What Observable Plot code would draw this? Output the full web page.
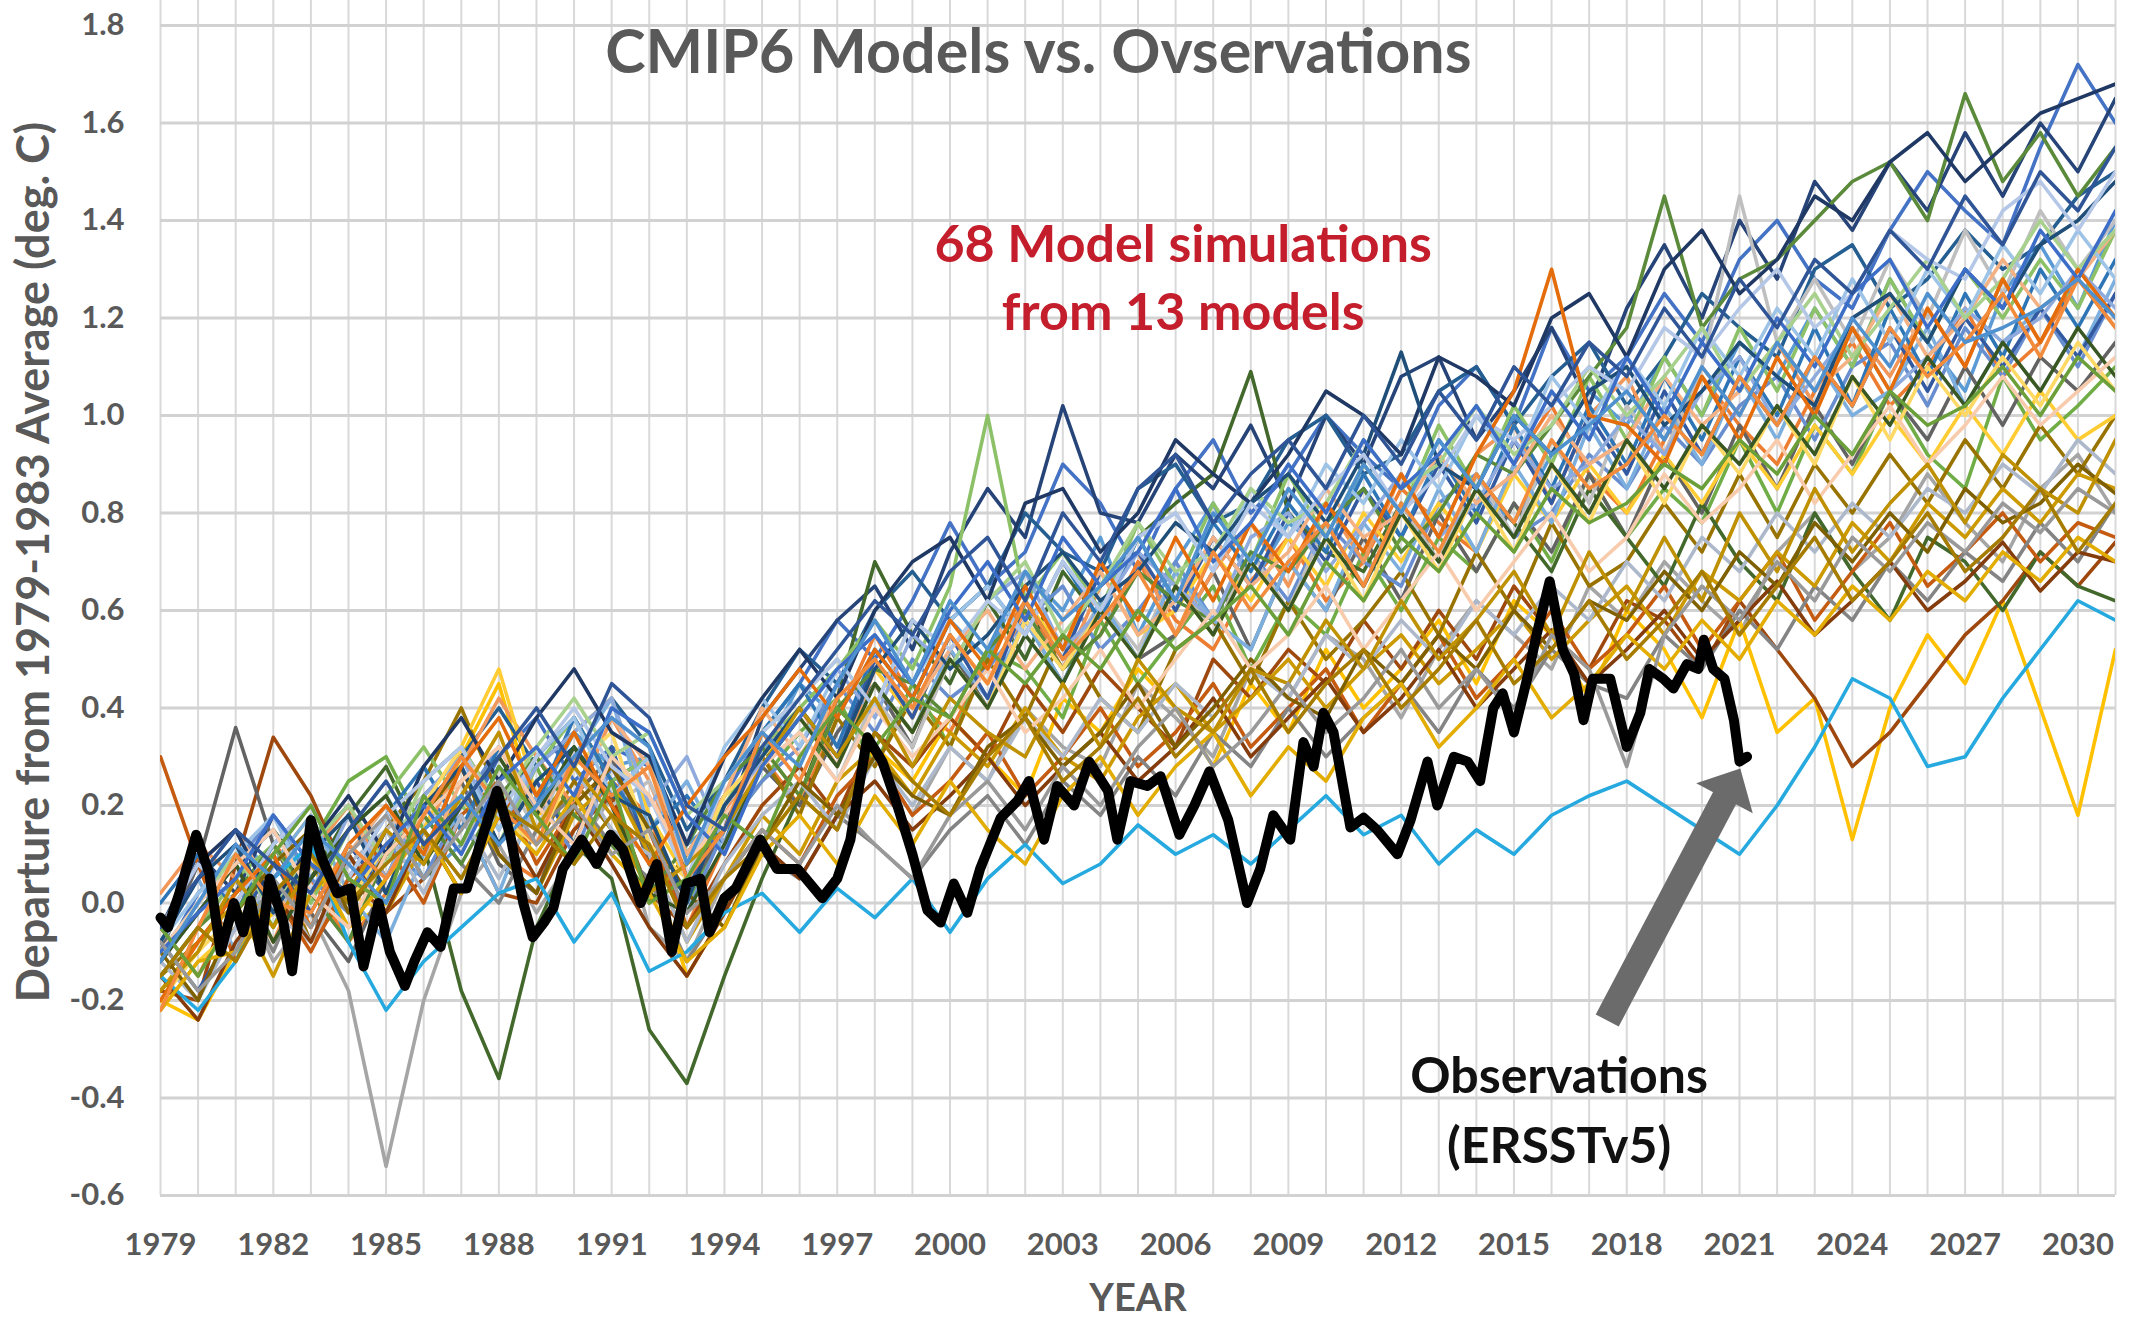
<!DOCTYPE html>
<html>
<head>
<meta charset="utf-8">
<script src="https://cdn.jsdelivr.net/npm/d3@7"></script>
<script src="https://cdn.jsdelivr.net/npm/@observablehq/plot@0.6"></script>
<style>
  html, body { margin: 0; padding: 0; background: #ffffff; }
  #chart { width: 2138px; height: 1319px; }
</style>
</head>
<body>
<div id="chart"></div>
<script>
// ---------- categories / ticks ----------
const years = [1979,1980,1981,1982,1983,1984,1985,1986,1987,1988,1989,1990,1991,1992,1993,1994,1995,1996,1997,1998,1999,2000,2001,2002,2003,2004,2005,2006,2007,2008,2009,2010,2011,2012,2013,2014,2015,2016,2017,2018,2019,2020,2021,2022,2023,2024,2025,2026,2027,2028,2029,2030,2031];
const xTicks = [1979,1982,1985,1988,1991,1994,1997,2000,2003,2006,2009,2012,2015,2018,2021,2024,2027,2030];
const yTicks = [-0.6,-0.4,-0.2,0.0,0.2,0.4,0.6,0.8,1.0,1.2,1.4,1.6,1.8];

// ---------- texts ----------
const titleText = "CMIP6 Models vs. Ovservations";
const modelNote = "68 Model simulations\nfrom 13 models";
const obsNote = "Observations\n(ERSSTv5)";
const yLabel = "Departure from 1979-1983 Average (deg. C)";
const xLabel = "YEAR";

// ---------- model simulations (yearly 1979..2031, deg C) ----------
const s01 = [-0.12,0.02,0.10,-0.02,0.05,0.18,0.08,0.22,0.15,0.30, 0.38,0.25,0.32,0.28,0.10,0.22,0.35,0.45,0.58,0.50, 0.62,0.78,0.65,0.72,0.90,0.82,0.68,0.85,0.95,0.80, 0.88,1.00,0.92,0.85,1.02,1.10,0.98,1.18,1.05,1.12, 1.25,1.15,1.32,1.40,1.28,1.22,1.38,1.50,1.42,1.35, 1.55,1.72,1.60];
const s02 = [-0.05,-0.15,0.00,0.12,0.05,-0.08,0.02,0.18,0.28,0.10, 0.05,0.15,0.25,0.18,-0.05,0.12,0.30,0.20,0.38,0.55, 0.42,0.35,0.50,0.62,0.48,0.55,0.70,0.58,0.52,0.66, 0.75,0.62,0.70,0.85,0.78,0.72,0.90,1.02,0.88,0.80, 0.95,1.08,0.98,0.90,1.05,1.15,1.02,1.10,1.22,1.08, 1.15,1.28,1.18];
const s03 = [-0.15,-0.05,0.05,-0.12,-0.02,-0.18,-0.54,-0.20,0.02,0.12, -0.02,0.10,0.22,-0.05,-0.12,0.05,0.15,0.08,0.22,0.30, 0.18,0.32,0.25,0.40,0.32,0.28,0.45,0.38,0.30,0.48, 0.42,0.55,0.50,0.38,0.52,0.62,0.55,0.48,0.65,0.58, 0.70,0.62,0.55,0.72,0.80,0.68,0.75,0.88,0.78,0.70, 0.85,0.92,0.80];
const s04 = [-0.20,-0.24,-0.10,-0.02,0.08,-0.05,0.00,0.15,0.30,0.45, 0.18,0.22,0.30,0.10,-0.15,-0.02,0.12,0.22,0.15,0.32, 0.25,0.38,0.30,0.22,0.42,0.35,0.48,0.40,0.28,0.45, 0.35,0.52,0.40,0.48,0.58,0.45,0.62,0.55,0.42,0.60, 0.52,0.38,0.58,0.35,0.42,0.13,0.40,0.55,0.45,0.62, 0.40,0.18,0.52];
const s05 = [-0.08,0.05,0.15,0.05,-0.05,0.10,0.20,0.05,0.12,0.28, 0.20,0.35,0.28,0.30,0.12,0.18,0.30,0.45,0.38,0.52, 0.42,0.58,0.50,0.68,0.60,0.75,0.55,0.70,0.82,0.65, 0.78,0.72,0.90,0.80,0.95,0.85,0.78,0.92,1.05,0.98, 1.12,1.00,1.15,1.08,1.22,1.10,1.28,1.15,1.05,1.25, 1.35,1.22,1.40];
const s06 = [-0.12,-0.02,0.08,-0.05,0.12,0.25,0.30,0.15,0.02,0.20, 0.28,0.12,0.32,0.08,0.00,0.15,0.25,0.35,0.42,0.28, 0.45,0.32,0.52,0.48,0.38,0.58,0.45,0.55,0.65,0.48, 0.62,0.55,0.72,0.60,0.75,0.68,0.82,0.70,0.88,0.75, 0.85,0.78,0.95,0.80,0.98,0.88,1.05,0.92,0.85,1.08, 0.95,1.02,1.10];
const s07 = [-0.05,0.10,0.02,0.18,0.08,0.00,0.15,0.25,0.32,0.20, 0.30,0.38,0.25,0.30,0.05,0.15,0.38,0.48,0.58,0.65, 0.52,0.72,0.85,0.75,1.02,0.80,0.78,0.92,0.85,0.98, 0.82,1.00,0.90,1.08,1.12,0.95,1.05,1.18,1.02,1.22, 1.35,1.20,1.40,1.28,1.48,1.38,1.52,1.42,1.58,1.45, 1.60,1.50,1.65];
const s08 = [-0.18,-0.20,0.08,0.34,0.22,0.05,-0.02,0.05,0.18,0.02, 0.00,0.15,0.22,0.02,-0.05,0.08,0.20,0.28,0.18,0.35, 0.28,0.38,0.30,0.45,0.35,0.48,0.40,0.32,0.50,0.42, 0.52,0.45,0.58,0.48,0.60,0.50,0.65,0.55,0.48,0.62, 0.58,0.48,0.62,0.52,0.42,0.28,0.35,0.45,0.55,0.62, 0.72,0.65,0.74];
const s09 = [-0.10,0.08,0.36,0.12,-0.02,-0.12,0.05,0.18,0.25,0.08, 0.02,0.22,0.30,0.08,0.02,0.15,0.28,0.20,0.35,0.45, 0.32,0.52,0.40,0.58,0.45,0.62,0.50,0.55,0.68,0.52, 0.70,0.60,0.75,0.62,0.80,0.68,0.82,0.72,0.88,0.75, 0.92,0.80,0.98,0.85,1.02,0.90,1.05,0.95,1.10,0.98, 1.12,1.05,1.15];
const s10 = [-0.15,-0.08,0.02,0.10,-0.08,0.02,0.15,0.25,0.40,0.22, 0.12,0.25,0.15,0.00,0.10,0.22,0.30,0.18,0.38,0.28, 0.42,0.32,0.50,0.38,0.55,0.42,0.35,0.52,0.58,0.45, 0.62,0.50,0.58,0.68,0.55,0.72,0.60,0.78,0.65,0.70, 0.82,0.72,0.88,0.75,0.90,0.80,0.92,0.82,0.95,0.85, 0.98,0.88,1.00];
const s11 = [-0.05,0.08,0.15,0.00,0.12,0.20,0.05,0.22,0.30,0.40, 0.28,0.35,0.42,0.32,0.15,0.25,0.40,0.52,0.45,0.60, 0.68,0.58,0.65,0.80,0.72,0.68,0.85,0.90,0.78,0.82, 0.95,1.00,0.88,0.92,1.05,1.10,0.98,1.08,1.15,1.02, 1.12,1.25,1.18,1.12,1.30,1.35,1.22,1.28,1.38,1.30, 1.35,1.45,1.50];
const s12 = [-0.10,-0.02,0.08,0.15,0.05,0.18,0.28,0.12,-0.18,-0.36, -0.05,0.12,0.05,-0.26,-0.37,-0.15,0.05,0.22,0.42,0.70, 0.55,0.45,0.62,0.50,0.68,0.58,0.75,0.82,0.88,1.09, 0.80,0.72,0.68,0.82,0.70,0.88,0.78,0.68,0.85,0.75, 0.65,0.82,0.70,0.62,0.80,0.68,0.58,0.75,0.70,0.60, 0.72,0.65,0.62];
const s13 = [-0.12,-0.02,0.08,0.18,0.05,-0.02,0.12,0.05,0.20,0.32, 0.22,0.10,0.28,0.12,-0.02,0.15,0.25,0.32,0.45,0.35, 0.50,0.42,0.48,0.58,0.65,0.52,0.60,0.70,0.58,0.72, 0.62,0.78,0.70,0.65,0.82,0.88,0.75,0.80,0.92,0.85, 0.98,0.90,1.02,1.08,0.95,1.10,1.15,1.02,1.18,1.08, 1.22,1.10,1.25];
const s14 = [0.02,0.12,0.05,-0.08,0.10,0.20,0.05,0.15,0.28,0.42, 0.30,0.20,0.38,0.25,0.05,0.18,0.32,0.40,0.28,0.48, 0.38,0.55,0.45,0.60,0.48,0.65,0.72,0.55,0.68,0.78, 0.65,0.82,0.70,0.88,0.75,0.92,0.98,0.82,1.00,1.08, 0.92,1.10,1.00,1.15,1.02,1.18,1.08,1.22,1.10,1.28, 1.15,1.30,1.20];
const s15 = [-0.10,0.00,0.10,-0.02,-0.08,0.05,0.15,0.22,0.10,0.28, 0.15,0.32,0.20,0.25,0.08,0.20,0.28,0.35,0.25,0.42, 0.32,0.50,0.40,0.58,0.48,0.62,0.52,0.68,0.55,0.72, 0.60,0.78,0.65,0.82,0.70,0.88,0.75,0.95,0.82,1.02, 0.92,1.10,1.45,1.15,1.28,1.15,1.32,1.20,1.38,1.25, 1.42,1.30,1.40];
const s16 = [-0.22,-0.12,-0.05,0.08,0.18,0.02,-0.02,0.15,0.32,0.48, 0.22,0.35,0.42,0.18,0.05,0.20,0.32,0.22,0.40,0.48, 0.38,0.55,0.45,0.62,0.52,0.68,0.55,0.60,0.72,0.62, 0.75,0.65,0.80,0.70,0.82,0.72,0.88,0.78,0.90,0.80, 0.92,0.82,0.95,0.85,0.98,0.88,1.00,0.90,1.02,0.92, 1.05,0.95,1.00];
const s17 = [-0.05,0.05,-0.10,0.08,0.18,0.02,-0.08,0.10,0.18,0.02, 0.22,0.30,0.42,0.15,0.25,0.10,0.28,0.38,0.28,0.45, 0.35,0.52,0.42,0.58,0.45,0.62,0.50,0.68,0.58,0.52, 0.70,0.60,0.78,0.68,0.85,0.72,0.90,0.78,0.98,0.85, 1.02,0.90,1.08,0.95,1.12,1.00,1.05,1.18,1.02,1.15, 1.22,1.12,1.28];
const s18 = [-0.15,-0.05,0.05,0.12,0.00,0.15,0.22,0.32,0.20,0.12, 0.28,0.38,0.25,0.30,0.10,0.20,0.32,0.40,0.48,0.58, 0.48,0.65,1.00,0.62,0.72,0.60,0.78,0.65,0.82,0.70, 0.88,0.75,0.90,0.80,0.98,0.85,1.02,0.90,1.08,0.95, 1.12,1.00,1.18,1.05,1.22,1.10,1.28,1.15,1.30,1.20, 1.32,1.22,1.38];
const s19 = [-0.08,-0.18,-0.05,0.08,-0.02,0.12,0.02,0.20,0.28,0.12, 0.25,0.12,0.32,0.10,0.02,0.20,0.30,0.40,0.30,0.50, 0.38,0.55,0.42,0.62,0.50,0.68,0.72,0.60,0.75,0.65, 0.80,0.70,0.85,0.75,0.90,0.78,0.95,0.82,1.00,0.88, 1.05,0.92,1.08,0.98,1.12,1.02,1.18,1.05,1.20,1.10, 1.22,1.12,1.25];
const s20 = [0.30,0.08,-0.12,0.02,-0.10,0.05,0.12,0.00,0.18,0.25, 0.08,0.20,0.28,0.15,-0.05,0.05,0.15,0.08,0.22,0.30, 0.18,0.25,0.35,0.22,0.30,0.40,0.28,0.35,0.45,0.32, 0.40,0.48,0.35,0.45,0.55,0.42,0.50,0.60,0.48,0.55, 0.65,0.52,0.62,0.72,0.58,0.68,0.78,0.65,0.72,0.80, 0.70,0.78,0.75];
const s21 = [-0.12,-0.02,0.05,-0.10,0.08,-0.02,0.10,0.18,0.08,0.00, 0.15,0.22,0.12,0.05,-0.12,0.00,0.10,0.05,0.18,0.12, 0.05,0.15,0.22,0.12,0.25,0.18,0.30,0.22,0.35,0.28, 0.40,0.30,0.38,0.45,0.35,0.48,0.40,0.52,0.45,0.42, 0.55,0.48,0.60,0.52,0.65,0.58,0.70,0.62,0.72,0.66, 0.78,0.70,0.82];
const s22 = [-0.18,-0.08,0.00,-0.15,0.02,0.10,-0.02,0.12,0.22,0.10, 0.02,0.18,0.25,0.10,-0.08,0.05,0.18,0.10,0.25,0.32, 0.22,0.35,0.28,0.40,0.30,0.25,0.38,0.45,0.35,0.42, 0.50,0.40,0.48,0.55,0.45,0.52,0.60,0.50,0.58,0.65, 0.55,0.68,0.62,0.72,0.65,0.78,0.70,0.82,0.75,0.85, 0.78,0.88,0.85];
const s23 = [0.00,0.10,-0.02,0.12,0.20,0.05,0.18,0.28,0.15,0.32, 0.20,0.38,0.25,0.15,0.22,0.12,0.35,0.45,0.32,0.52, 0.42,0.58,0.65,0.55,0.70,0.58,0.75,0.62,0.78,0.68, 0.82,0.72,0.88,0.75,0.92,0.80,0.98,0.85,1.02,0.90, 1.08,0.95,1.12,1.00,1.18,1.02,1.22,1.08,1.25,1.12, 1.30,1.18,1.32];
const s24 = [-0.15,-0.05,0.02,0.12,0.02,-0.08,0.10,0.18,0.08,0.22, 0.30,0.18,0.12,0.02,0.12,0.25,0.32,0.22,0.40,0.48, 0.45,0.38,0.52,0.60,0.48,0.55,0.68,0.62,0.58,0.72, 0.68,0.78,0.85,0.72,0.80,0.92,0.88,0.98,1.08,1.18, 1.45,1.18,1.28,1.32,1.40,1.48,1.52,1.40,1.66,1.48, 1.58,1.45,1.55];
const s25 = [-0.10,0.00,0.08,0.15,0.02,0.18,0.05,0.22,0.30,0.15, 0.28,0.35,0.42,0.20,0.30,0.12,0.30,0.38,0.48,0.38, 0.55,0.48,0.62,0.68,0.52,0.60,0.72,0.65,0.58,0.75, 0.80,0.68,0.78,0.88,0.75,0.82,0.95,0.85,0.90,1.00, 0.92,1.05,1.12,0.98,1.08,1.18,1.05,1.12,1.22,1.15, 1.20,1.30,1.22];
const s26 = [-0.05,0.08,0.15,0.02,-0.05,0.10,0.20,0.08,0.25,0.32, 0.18,0.30,0.38,0.28,0.10,0.22,0.40,0.30,0.42,0.50, 0.40,0.52,0.60,0.48,0.58,0.68,0.55,0.62,0.75,0.65, 0.72,0.85,0.75,0.80,0.92,0.82,0.88,1.00,0.90,0.95, 1.08,0.98,1.05,1.15,1.05,1.12,1.25,1.12,1.20,1.32, 1.22,1.28,1.38];
const s27 = [-0.12,-0.20,-0.05,0.05,-0.08,0.08,0.15,0.02,0.18,0.05, 0.20,0.28,0.15,0.10,-0.08,0.08,0.18,0.25,0.15,0.30, 0.20,0.32,0.25,0.38,0.30,0.42,0.35,0.45,0.38,0.48, 0.42,0.55,0.48,0.58,0.50,0.62,0.55,0.65,0.58,0.70, 0.62,0.75,0.68,0.80,0.72,0.82,0.75,0.85,0.80,0.90, 0.84,0.95,0.88];
const s28 = [-0.20,-0.10,-0.02,0.08,0.15,0.00,0.12,0.20,0.32,0.18, 0.12,0.28,0.35,0.12,0.05,0.22,0.30,0.38,0.28,0.45, 0.35,0.50,0.40,0.58,0.48,0.60,0.50,0.65,0.55,0.70, 0.60,0.75,0.62,0.80,0.68,0.85,0.72,0.90,0.78,0.95, 0.82,0.98,0.88,1.02,0.90,1.08,0.95,1.10,1.00,1.12, 1.02,1.15,1.05];
const s29 = [-0.08,0.02,0.10,0.18,0.02,0.15,0.22,0.10,0.28,0.15, 0.30,0.38,0.22,0.30,0.12,0.32,0.42,0.32,0.48,0.55, 0.45,0.58,0.65,0.55,0.70,0.60,0.75,0.80,0.68,0.85, 0.75,0.90,0.82,0.95,0.85,1.00,0.90,1.08,0.98,1.12, 1.02,1.18,1.08,1.22,1.12,1.28,1.15,1.30,1.20,1.35, 1.25,1.38,1.28];
const s30 = [-0.10,0.00,0.10,-0.02,0.12,0.20,0.08,0.25,0.32,0.20, 0.32,0.42,0.30,0.35,0.18,0.25,0.35,0.42,0.50,0.40, 0.58,0.48,0.62,0.70,0.55,0.65,0.78,0.68,0.72,0.85, 0.78,0.82,0.95,0.85,0.90,1.02,0.92,0.98,1.10,1.00, 1.08,1.18,1.05,1.15,1.25,1.12,1.22,1.32,1.20,1.28, 1.40,1.30,1.38];
const s31 = [-0.05,0.08,0.15,0.00,0.12,0.22,0.10,0.28,0.38,0.25, 0.38,0.48,0.35,0.30,0.12,0.30,0.42,0.52,0.42,0.60, 0.70,0.75,0.62,0.82,0.85,0.72,0.80,0.95,0.88,0.82, 0.92,1.05,1.00,0.92,1.12,1.08,1.02,1.20,1.25,1.12, 1.30,1.38,1.25,1.32,1.45,1.40,1.52,1.58,1.48,1.55, 1.62,1.65,1.68];
const s32 = [-0.15,-0.24,-0.08,0.02,-0.08,0.10,-0.02,0.15,0.02,0.18, 0.05,0.20,0.08,-0.05,-0.15,-0.02,0.12,0.05,0.18,0.25, 0.15,0.22,0.30,0.20,0.28,0.35,0.25,0.32,0.42,0.30, 0.38,0.46,0.35,0.42,0.52,0.40,0.48,0.56,0.45,0.52, 0.60,0.50,0.58,0.66,0.55,0.62,0.70,0.60,0.66,0.74, 0.64,0.72,0.70];
const s33 = [-0.10,-0.20,-0.02,0.08,0.15,-0.02,0.10,0.18,0.28,0.10, 0.02,0.20,0.28,0.15,0.02,-0.05,0.12,0.25,0.18,0.30, 0.22,0.18,0.32,0.38,0.28,0.35,0.45,0.32,0.40,0.50, 0.42,0.38,0.52,0.45,0.55,0.48,0.60,0.52,0.62,0.58, 0.68,0.60,0.72,0.65,0.78,0.70,0.80,0.72,0.85,0.78, 0.82,0.90,0.84];
const s34 = [-0.08,0.05,0.12,-0.02,0.10,0.18,0.02,0.20,0.28,0.12, 0.25,0.32,0.22,0.18,0.00,0.20,0.30,0.40,0.30,0.48, 0.58,0.48,0.55,0.65,0.72,0.62,0.68,0.78,0.72,0.82, 0.88,0.78,0.92,1.13,0.90,0.85,1.00,0.92,1.05,1.10, 0.98,1.05,1.15,1.08,1.02,1.20,1.25,1.15,1.30,1.22, 1.35,1.40,1.48];
const s35 = [-0.12,-0.02,0.08,-0.08,0.05,0.15,0.22,0.08,0.20,0.30, 0.18,0.32,0.20,0.02,-0.02,0.12,0.28,0.38,0.28,0.45, 0.35,0.50,0.40,0.55,0.45,0.60,0.50,0.65,0.55,0.70, 0.60,0.75,0.65,0.80,0.70,0.85,0.75,0.90,0.80,0.95, 0.85,0.98,0.90,1.02,0.92,1.08,0.98,1.12,1.02,1.15, 1.05,1.18,1.08];
const s36 = [-0.15,-0.22,-0.12,0.05,0.12,-0.08,-0.22,-0.12,-0.05,0.02, 0.05,-0.08,0.02,-0.14,-0.10,-0.02,0.02,-0.06,0.03,-0.03, 0.05,-0.06,0.05,0.12,0.04,0.08,0.16,0.10,0.14,0.08, 0.15,0.22,0.14,0.18,0.08,0.15,0.10,0.18,0.22,0.25, 0.20,0.15,0.10,0.20,0.32,0.46,0.42,0.28,0.30,0.42, 0.52,0.62,0.58];
const s37 = [-0.22,-0.12,-0.10,0.02,0.10,-0.05,0.05,0.15,0.02,0.18, 0.10,0.22,0.10,0.02,-0.12,-0.05,0.10,0.18,0.08,0.22, 0.12,0.25,0.15,0.08,0.22,0.30,0.18,0.28,0.35,0.22, 0.32,0.25,0.38,0.45,0.32,0.40,0.50,0.38,0.45,0.55, 0.48,0.58,0.50,0.62,0.55,0.65,0.58,0.68,0.62,0.72, 0.66,0.75,0.70];
const s38 = [-0.05,0.08,0.00,0.12,0.20,0.05,0.18,0.25,0.32,0.18, 0.30,0.40,0.28,0.22,0.05,0.25,0.35,0.42,0.50,0.40, 0.58,0.52,0.62,0.55,0.70,0.60,0.75,0.80,0.68,0.82, 0.75,0.85,0.92,0.80,0.88,1.00,0.95,1.02,1.10,1.05, 1.18,1.12,1.22,1.30,1.18,1.25,1.38,1.32,1.28,1.42, 1.48,1.38,1.50];
const s39 = [-0.10,0.00,0.08,0.15,0.02,-0.05,0.10,0.18,0.25,0.32, 0.20,0.12,0.30,0.22,0.08,0.18,0.28,0.35,0.25,0.40, 0.30,0.38,0.48,0.35,0.42,0.52,0.40,0.50,0.60,0.48, 0.55,0.65,0.52,0.62,0.72,0.60,0.70,0.80,0.68,0.75, 0.88,0.78,0.85,0.95,0.82,0.92,1.02,0.90,0.98,1.08, 0.98,1.05,1.12];
const s40 = [-0.20,-0.08,0.02,0.10,-0.05,0.12,0.20,0.10,0.28,0.38, 0.22,0.35,0.20,0.08,0.20,0.30,0.38,0.48,0.38,0.52, 0.42,0.58,0.48,0.65,0.52,0.70,0.58,0.75,0.62,0.78, 0.68,0.82,0.72,0.88,0.75,0.92,1.05,1.30,1.00,0.98, 0.90,1.08,0.95,1.12,1.00,1.18,1.05,1.22,1.10,1.28, 1.15,1.30,1.20];
const s41 = [-0.18,-0.10,0.05,-0.05,0.08,0.02,0.15,0.08,0.22,0.35, 0.15,0.28,0.18,0.02,0.08,0.15,0.28,0.40,0.30,0.42, 0.28,0.42,0.35,0.30,0.45,0.32,0.50,0.40,0.35,0.48, 0.45,0.58,0.48,0.62,0.50,0.58,0.68,0.55,0.72,0.60, 0.75,0.62,0.80,0.68,0.85,0.72,0.82,0.90,0.78,0.92, 0.85,0.80,0.95];
const s42 = [-0.10,-0.02,0.05,0.18,0.08,0.02,0.12,0.20,0.10,0.25, 0.32,0.22,0.40,0.35,0.18,0.10,0.28,0.38,0.48,0.55, 0.45,0.60,0.70,0.58,0.75,0.65,0.72,0.85,0.70,0.78, 0.90,0.80,0.95,0.85,0.92,1.02,0.90,1.05,0.95,1.12, 1.00,1.15,1.05,1.20,1.10,1.25,1.32,1.18,1.30,1.22, 1.38,1.28,1.42];
const s43 = [-0.22,-0.05,0.10,0.00,-0.02,0.12,0.05,0.18,0.30,0.20, 0.12,0.30,0.22,0.28,0.05,0.15,0.35,0.25,0.42,0.50, 0.40,0.55,0.45,0.62,0.50,0.58,0.68,0.55,0.72,0.60, 0.70,0.78,0.65,0.82,0.72,0.88,0.78,0.95,0.85,0.90, 1.00,0.92,1.08,0.98,1.12,1.02,1.18,1.08,1.15,1.25, 1.12,1.28,1.18];
const s44 = [-0.05,-0.15,-0.02,0.10,0.20,0.05,0.00,0.22,0.12,0.28, 0.18,0.08,0.25,0.00,0.05,0.18,0.12,0.30,0.40,0.32, 0.42,0.38,0.52,0.45,0.55,0.48,0.60,0.52,0.58,0.65, 0.55,0.70,0.62,0.75,0.68,0.80,0.72,0.85,0.78,0.82, 0.90,0.85,0.95,0.88,1.00,0.92,1.05,0.98,1.02,1.10, 1.00,1.12,1.05];
const s45 = [-0.08,-0.18,-0.10,0.05,-0.05,0.10,0.18,0.05,0.15,0.25, 0.12,0.20,0.10,0.15,-0.02,0.05,0.15,0.08,0.20,0.12, 0.05,0.18,0.25,0.15,0.28,0.20,0.32,0.40,0.28,0.35, 0.45,0.35,0.42,0.52,0.40,0.48,0.38,0.55,0.48,0.28, 0.55,0.65,0.58,0.70,0.62,0.75,0.68,0.78,0.72,0.82, 0.76,0.85,0.80];
const s46 = [-0.12,0.00,0.12,0.05,0.15,0.08,0.00,0.15,0.22,0.12, 0.20,0.30,0.38,0.32,0.08,0.25,0.35,0.28,0.45,0.58, 0.45,0.62,0.52,0.68,0.58,0.65,0.75,0.62,0.80,0.70, 0.85,0.75,0.90,0.80,0.95,0.85,1.00,0.92,0.98,1.05, 0.95,1.10,1.00,1.15,1.05,1.20,1.10,1.25,1.15,1.18, 1.22,1.28,1.20];
const s47 = [-0.15,-0.05,-0.12,0.02,0.10,0.00,0.08,0.15,0.05,0.20, 0.15,0.08,0.18,0.12,-0.05,0.05,0.12,0.22,0.15,0.35, 0.25,0.18,0.30,0.38,0.25,0.32,0.42,0.30,0.38,0.48, 0.35,0.45,0.52,0.40,0.48,0.58,0.45,0.52,0.62,0.50, 0.58,0.68,0.55,0.65,0.75,0.62,0.70,0.80,0.68,0.75, 0.85,0.72,0.82];
const s48 = [-0.05,0.05,0.15,0.08,0.02,0.15,0.25,0.12,0.20,0.30, 0.40,0.28,0.45,0.38,0.20,0.15,0.32,0.42,0.52,0.62, 0.55,0.68,0.75,0.62,0.80,0.70,0.85,0.92,0.78,0.88, 0.95,0.85,1.00,0.90,1.05,0.95,1.10,1.02,1.15,1.08, 1.22,1.12,1.28,1.18,1.32,1.25,1.38,1.30,1.45,1.35, 1.50,1.42,1.55];

const modelSeries = [s01,s02,s03,s04,s05,s06,s07,s08,s09,s10,s11,s12,s13,s14,s15,s16,s17,s18,s19,s20,s21,s22,s23,s24,
                     s25,s26,s27,s28,s29,s30,s31,s32,s33,s34,s35,s36,s37,s38,s39,s40,s41,s42,s43,s44,s45,s46,s47,s48];
const modelColors = ["#4472C4","#ED7D31","#A5A5A5","#FFC000","#5B9BD5","#70AD47","#264478","#9E480E","#636363","#997300",
                     "#255E91","#43682B","#698ED0","#F1975A","#BFBFBF","#FFCD33","#7CAFDD","#8CC168","#335AA1","#C55A11",
                     "#848484","#CC9A00","#2E75B6","#5A8A3A","#8FAADC","#F4B183","#ADB9CA","#FFD966","#9DC3E6","#A9D18E",
                     "#1F3864","#843C0C","#7F6000","#1F4E79","#385723","#26A9DF","#E2AC00","#B4C7E7","#F8CBAD","#E46C0A",
                     "#BF9000","#3C6EC8","#F28C3C","#6A9F3A","#999999","#4F90CF","#A67C00","#2F5597"];

// ---------- observations (ERSSTv5) ----------
const obsTime = [1979.0,1979.2,1979.5,1979.95,1980.3,1980.6,1980.95,1981.2,1981.4,1981.66,1981.9,1982.27,1982.5,1983.0,1983.3,1983.7,
  1984.05,1984.4,1984.8,1985.1,1985.5,1985.75,1986.1,1986.45,1986.8,1987.15,1987.5,1987.95,1988.3,1988.65,1988.9,
  1989.2,1989.45,1989.7,1990.2,1990.6,1990.97,1991.3,1991.77,1992.2,1992.6,1993.0,1993.36,1993.6,1994.0,1994.3,1994.95,
  1995.4,1995.95,1996.6,1997.0,1997.35,1997.8,1998.2,1998.6,1999.0,1999.4,1999.75,2000.1,2000.46,2000.8,2001.35,2001.8,
  2002.1,2002.5,2002.85,2003.3,2003.7,2004.2,2004.45,2004.8,2005.25,2005.6,2006.1,2006.5,2006.9,2007.4,2007.9,2008.25,
  2008.6,2009.05,2009.4,2009.67,2009.93,2010.2,2010.65,2011.0,2011.36,2011.9,2012.25,2012.7,2012.96,2013.4,2013.77,
  2014.1,2014.45,2014.7,2015.0,2015.35,2015.6,2015.95,2016.3,2016.6,2016.85,2017.1,2017.56,2018.0,2018.36,2018.6,
  2018.97,2019.24,2019.6,2019.9,2020.05,2020.3,2020.6,2020.85,2021.0,2021.2];
const obsValue = [-0.03,-0.05,0.02,0.14,0.06,-0.10,0.00,-0.06,0.005,-0.10,0.05,-0.04,-0.14,0.17,0.09,0.02,
  0.03,-0.13,0.00,-0.10,-0.17,-0.12,-0.06,-0.09,0.03,0.03,0.12,0.23,0.14,0.00,-0.07,
  -0.04,-0.01,0.07,0.13,0.08,0.14,0.11,0.00,0.08,-0.10,0.04,0.05,-0.06,0.01,0.03,0.13,
  0.07,0.07,0.01,0.05,0.13,0.34,0.29,0.20,0.10,-0.015,-0.04,0.04,-0.02,0.07,0.175,0.21,
  0.25,0.13,0.24,0.20,0.29,0.23,0.13,0.25,0.24,0.26,0.14,0.20,0.27,0.17,0.00,0.07,
  0.18,0.13,0.33,0.28,0.39,0.35,0.155,0.175,0.15,0.10,0.17,0.29,0.20,0.30,0.29,
  0.25,0.40,0.43,0.35,0.46,0.55,0.66,0.52,0.47,0.375,0.46,0.46,0.32,0.39,0.48,
  0.46,0.44,0.49,0.48,0.54,0.48,0.46,0.375,0.29,0.30];

// ---------- annotation anchors (data space) ----------
const titleAt = {x: 2002.35, y: 1.742};
const modelNoteAt = {x: 2006.2, y: 1.289};
const obsNoteAt = {x: 2016.2, y: -0.415};
const arrowSpec = {x1: 2017.48, y1: -0.241, x2: 2021.02, y2: 0.276};

// ---------- build ----------
const modelRows = modelSeries.flatMap((vals, i) =>
  vals.map((v, j) => ({model: i, year: years[j], value: v})));
const obsRows = obsTime.map((t, i) => ({year: t, value: obsValue[i]}));

const headSymbol = {
  draw(ctx, size) {
    const w = Math.sqrt(size);
    ctx.moveTo(0, 0);
    ctx.lineTo(0.95 * w, w);
    ctx.lineTo(-0.95 * w, w);
    ctx.closePath();
  }
};

const font = "Lato, 'Open Sans', sans-serif";
const gray = "#595959";

const chart = Plot.plot({
  width: 2138,
  height: 1319,
  marginLeft: 160,
  marginRight: 23,
  marginTop: 0,
  marginBottom: 124,
  style: {fontFamily: font, background: "#ffffff", overflow: "visible"},
  x: {domain: [1979, 2031], axis: null},
  y: {domain: [-0.6, 1.8513], axis: null},
  color: {type: "identity"},
  marks: [
    Plot.gridX(years, {stroke: "#d9d9d9", strokeOpacity: 1, strokeWidth: 2}),
    Plot.gridY(yTicks, {stroke: "#d2d2d2", strokeOpacity: 1, strokeWidth: 3}),
    Plot.axisX(xTicks, {tickSize: 0, tickPadding: 37, tickFormat: d => String(d), fontSize: 31, fontWeight: "bold", color: gray}),
    Plot.axisY(yTicks, {tickSize: 0, tickPadding: 36, tickFormat: d => d.toFixed(1), fontSize: 31, fontWeight: "bold", color: gray}),
    Plot.text([titleText], {x: titleAt.x, y: titleAt.y, text: d => d, fontSize: 61, fontWeight: "bold", fill: gray, lineAnchor: "middle"}),
    Plot.line(modelRows, {x: "year", y: "value", z: "model", stroke: d => modelColors[d.model], strokeWidth: 3.6, strokeLinejoin: "round", clip: true}),
    Plot.line(obsRows, {x: "year", y: "value", stroke: "#000000", strokeWidth: 10, strokeLinejoin: "round", strokeLinecap: "round"}),
    Plot.text([modelNote], {x: modelNoteAt.x, y: modelNoteAt.y, text: d => d, fontSize: 52, fontWeight: "bold", fill: "#c41e2c", lineHeight: 1.31, lineAnchor: "middle"}),
    Plot.arrow([arrowSpec], {x1: "x1", y1: "y1", x2: "x2", y2: "y2", headLength: 0, insetEnd: 26, stroke: "#6b6b6b", strokeWidth: 26, strokeLinecap: "butt"}),
    Plot.dot([arrowSpec], {x: "x2", y: "y2", symbol: headSymbol, r: 19, rotate: 28, fill: "#6b6b6b", stroke: "none"}),
    Plot.text([obsNote], {x: obsNoteAt.x, y: obsNoteAt.y, text: d => d, fontSize: 50, fontWeight: "bold", fill: "#111111", lineHeight: 1.4, lineAnchor: "middle"}),
    Plot.text([yLabel], {frameAnchor: "left", text: d => d, rotate: -90, textAnchor: "middle", lineAnchor: "middle", dx: -126, dy: -36, fontSize: 45, fontWeight: "bold", fill: gray}),
    Plot.text([xLabel], {frameAnchor: "bottom", text: d => d, lineAnchor: "middle", dy: 103, fontSize: 38, fontWeight: "bold", fill: gray})
  ]
});

document.getElementById("chart").appendChild(chart);
</script>
</body>
</html>
